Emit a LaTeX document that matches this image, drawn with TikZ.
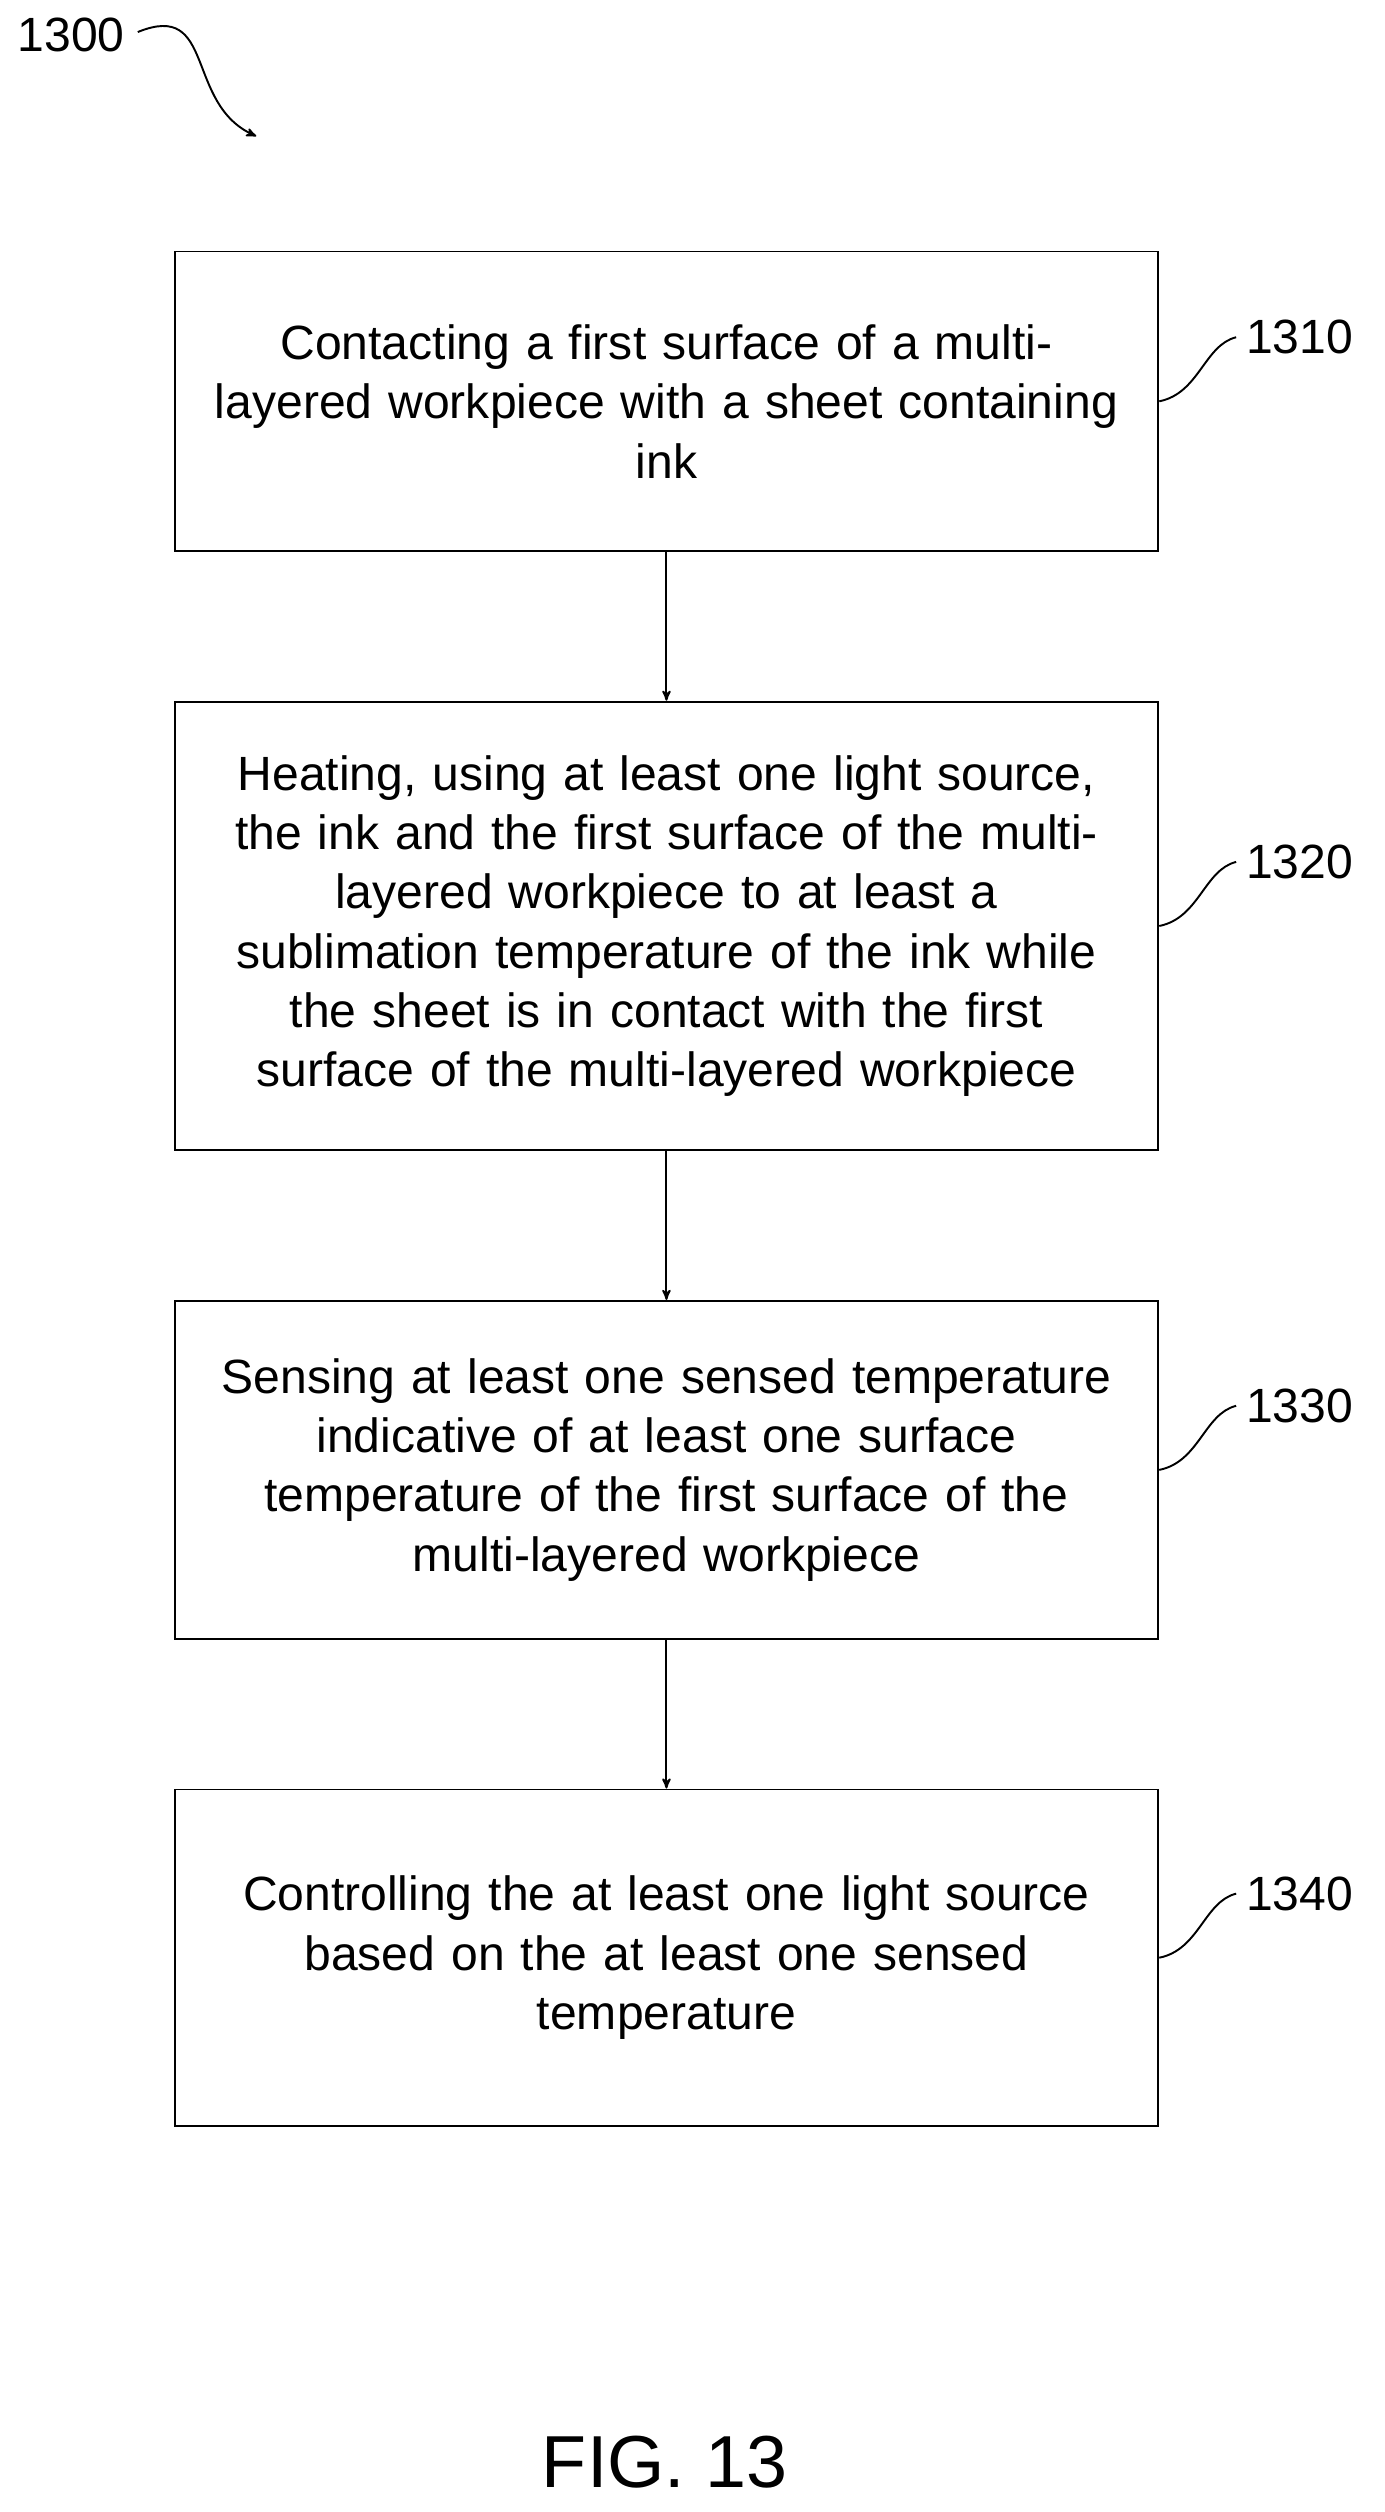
\documentclass[tikz,border=0pt]{standalone}
\usepackage{fontspec}
\setmainfont{Liberation Sans}
\usetikzlibrary{arrows, positioning}
\tikzset{
    %Define standard arrow tip
    >=stealth',
}
\begin{document}
\begin{tikzpicture}[
  x=1pt, y=-1pt,
  every node/.style = {align=center, font=\fontsize{30}{37}\selectfont},
  stage/.style = {draw, line width=1.2pt, minimum width=614pt, text width=600pt, inner sep=0pt},
  lead/.style = {line width=1.2pt},
  flow/.style = {->, line width=1.2pt, >={stealth'[scale=1.6]}} ]
  \useasboundingbox (0,0) rectangle (864,1568);
  \node [stage, minimum height=187pt] (s1310) at (416,250.5)
    {Contacting a first surface of a multi-\\layered workpiece with a sheet containing\\ink};
  \node [stage, minimum height=280pt] (s1320) at (416,578)
    {Heating, using at least one light source,\\the ink and the first surface of the multi-\\layered workpiece to at least a\\sublimation temperature of the ink while\\the sheet is in contact with the first\\surface of the multi-layered workpiece};
  \node [stage, minimum height=211pt] (s1330) at (416,917.5)
    {Sensing at least one sensed temperature\\indicative of at least one surface\\temperature of the first surface of the\\multi-layered workpiece};
  \node [stage, minimum height=210pt] (s1340) at (416,1222)
    {Controlling the at least one light source\\based on the at least one sensed\\temperature};
  \draw [flow] (s1310) -- (s1320);
  \draw [flow] (s1320) -- (s1330);
  \draw [flow] (s1330) -- (s1340);
  % reference numerals
  \foreach \s in {1310, 1320, 1330, 1340} {
    \coordinate (c\s) at ([xshift=48pt, yshift=40pt]s\s.east);
    \draw [lead] (s\s.east) .. controls +(25,-5) and +(-20,5) .. (c\s);
    \node [anchor=west, inner sep=6pt] (l\s) at (c\s) {\s};
  }
  \node (fig) at (78,22) [anchor=east, inner sep=0pt] {1300};
  \coordinate (tip) at (160,85);
  \draw [flow] (fig.east) ++(8,-2) .. controls (135,0) and (115,65) .. (tip);
  \node (caption) at (415,1537) {\fontsize{46}{52}\selectfont FIG. 13};
\end{tikzpicture}
\end{document}
